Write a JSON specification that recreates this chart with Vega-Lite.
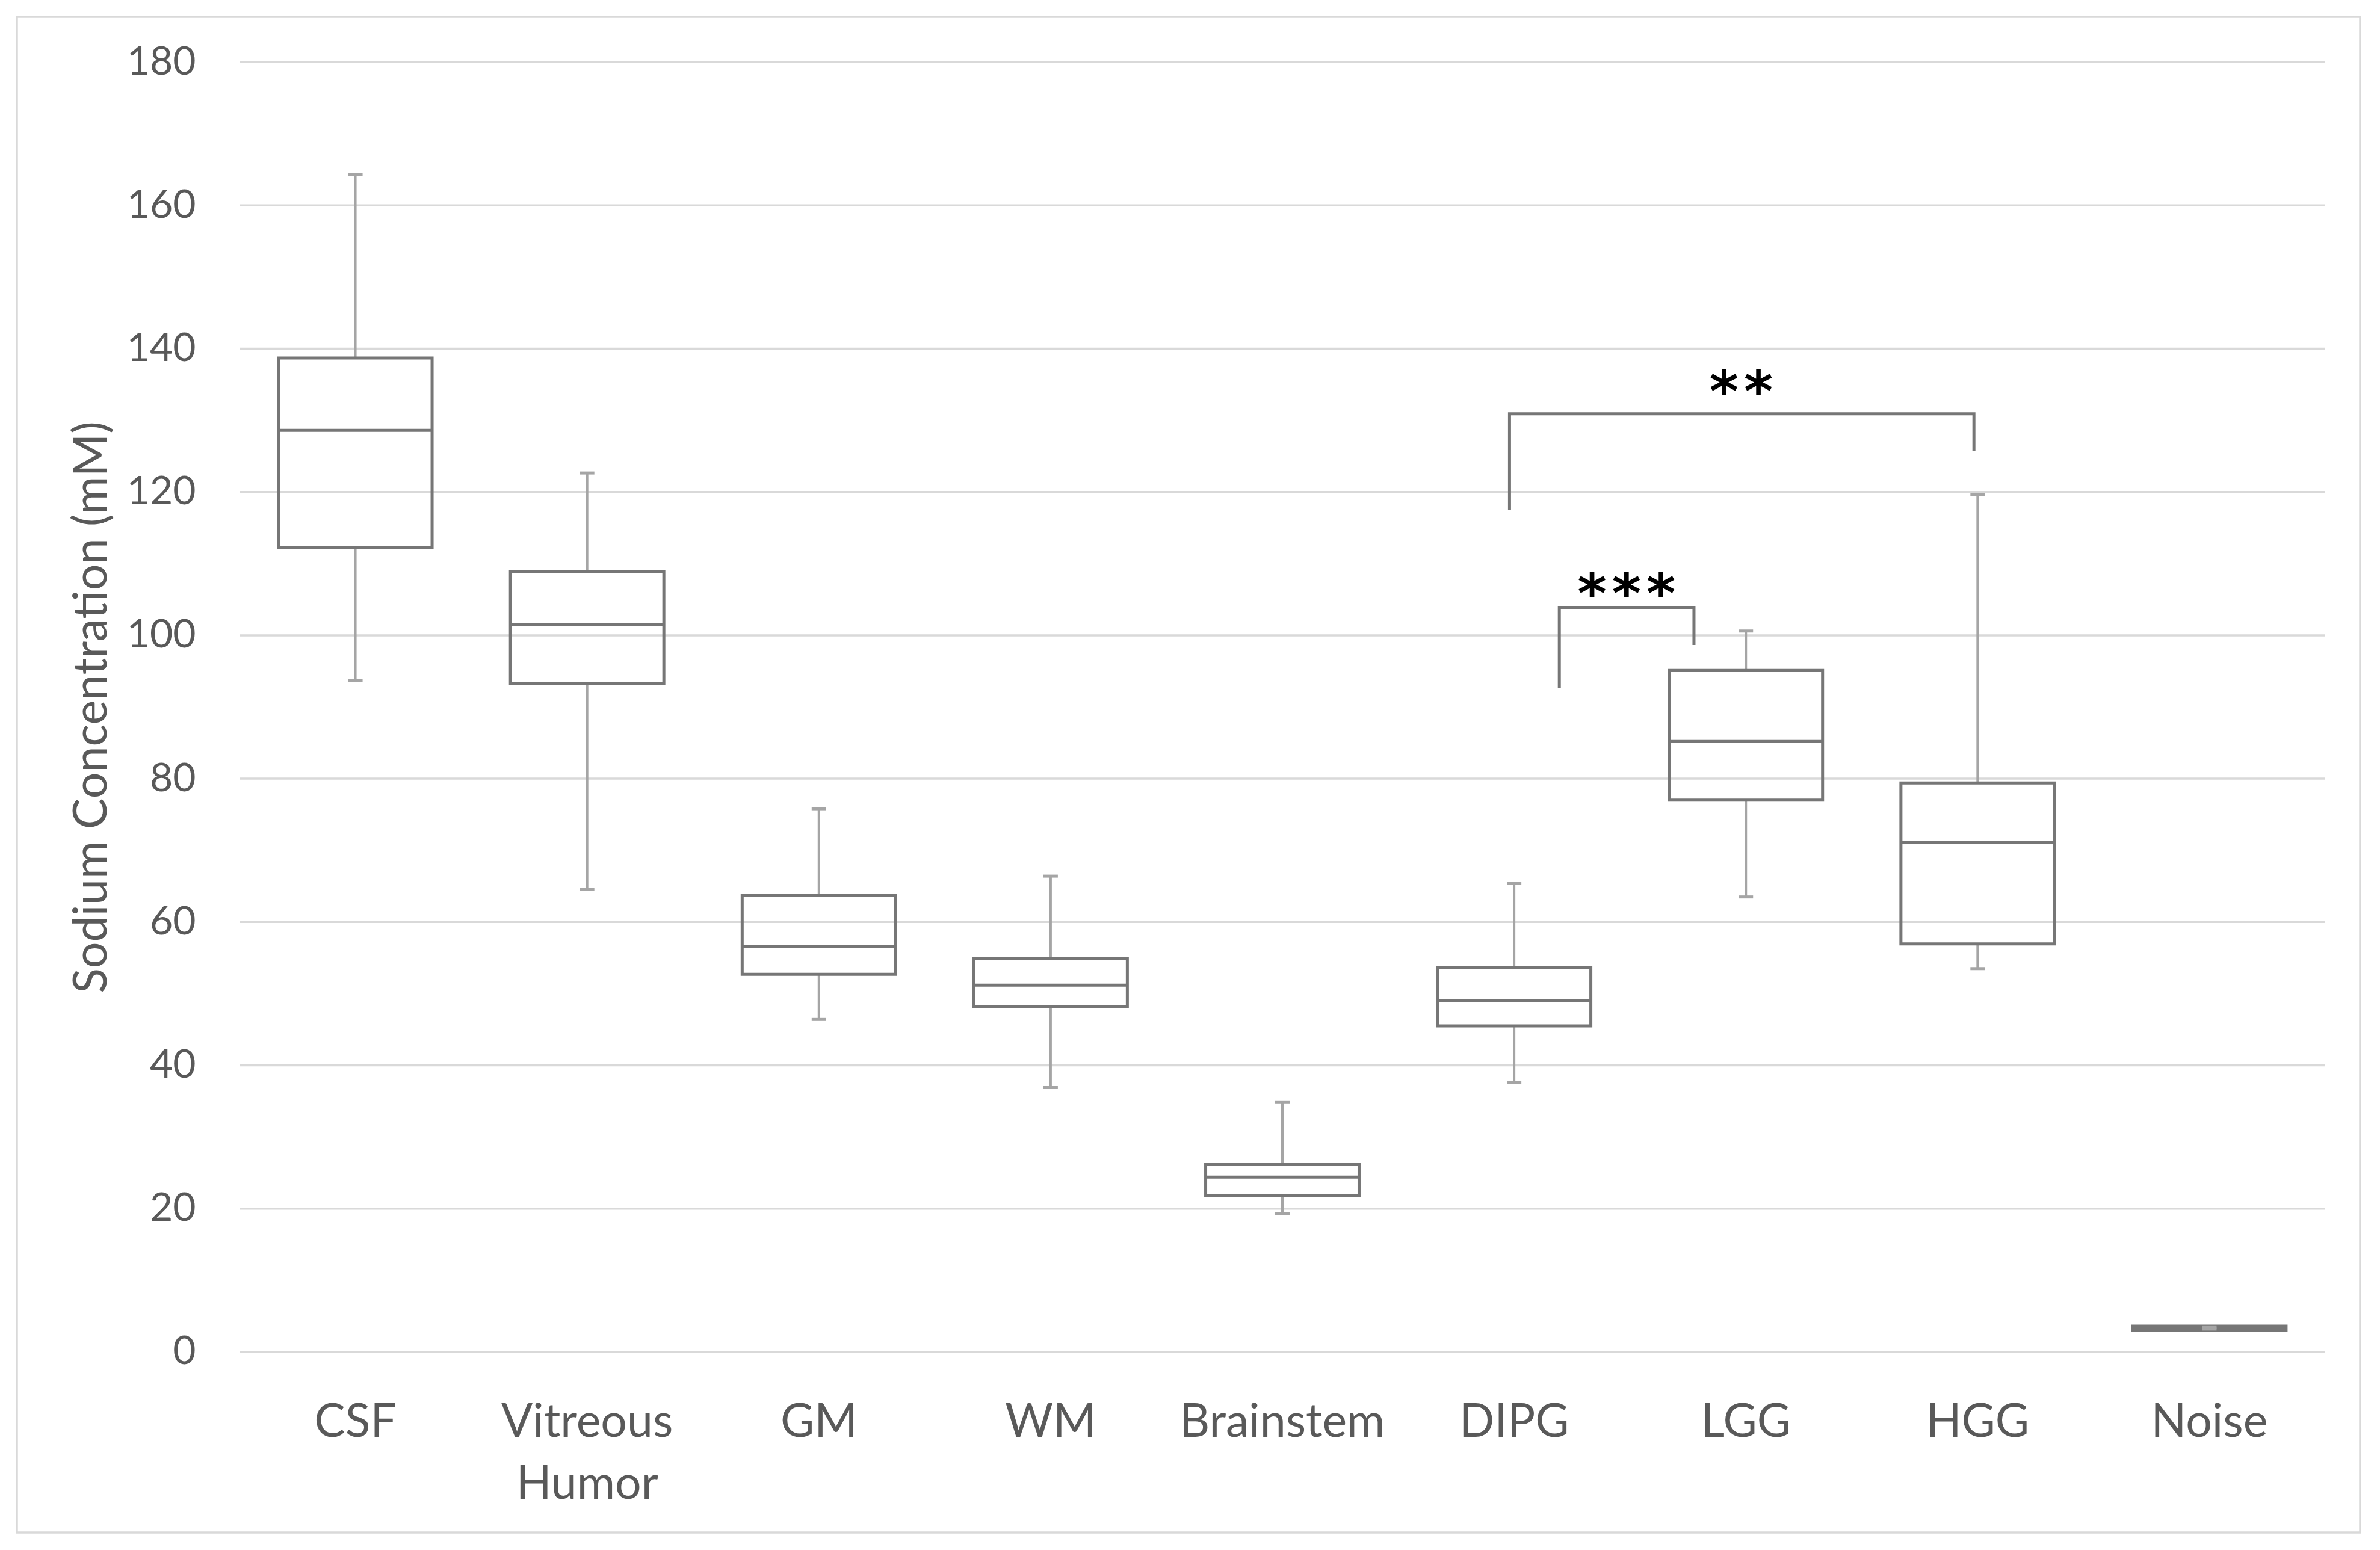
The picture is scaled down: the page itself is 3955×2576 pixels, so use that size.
{
  "$schema": "https://vega.github.io/schema/vega-lite/v6.json",
  "width": 3894,
  "height": 2519,
  "autosize": {"type": "none"},
  "padding": {"left": 28, "top": 28, "right": 33, "bottom": 29},
  "background": "white",
  "config": {
    "view": {"stroke": "#d9d9d9", "strokeWidth": 3.5},
    "font": "Lato",
    "axisY": {
      "tickCount": 10,
      "domain": false, "ticks": false, "grid": false,
      "offset": -297, "labelPadding": 0,
      "labelFont": "Lato", "labelFontSize": 66, "labelColor": "#595959",
      "labelExpr": "datum.value < 0 ? '' : datum.label",
      "titleFont": "Lato", "titleFontSize": 77, "titleColor": "#595959", "titleFontWeight": "normal",
      "titleAngle": -90, "titleX": -149, "titleY": 1147,
      "titleAlign": "center", "titleBaseline": "alphabetic"
    }
  },
  "datasets": {
    "boxes": [
      {"cat": "CSF", "low": 93.7, "q1": 112.3, "med": 128.6, "q3": 138.7, "high": 164.3},
      {"cat": "Vitreous Humor", "low": 64.6, "q1": 93.3, "med": 101.5, "q3": 108.9, "high": 122.65},
      {"cat": "GM", "low": 46.4, "q1": 52.7, "med": 56.6, "q3": 63.75, "high": 75.8},
      {"cat": "WM", "low": 36.9, "q1": 48.2, "med": 51.2, "q3": 54.9, "high": 66.4},
      {"cat": "Brainstem", "low": 19.3, "q1": 21.8, "med": 24.4, "q3": 26.15, "high": 34.9},
      {"cat": "DIPG", "low": 37.6, "q1": 45.5, "med": 49.0, "q3": 53.6, "high": 65.4},
      {"cat": "LGG", "low": 63.5, "q1": 77.0, "med": 85.2, "q3": 95.1, "high": 100.6},
      {"cat": "HGG", "low": 53.5, "q1": 56.95, "med": 71.15, "q3": 79.4, "high": 119.6},
      {"cat": "Noise", "low": 3.2, "q1": 3.05, "med": 3.35, "q3": 3.62, "high": 3.5}
    ],
    "grid": [
      {"g": 0}, {"g": 20}, {"g": 40}, {"g": 60}, {"g": 80},
      {"g": 100}, {"g": 120}, {"g": 140}, {"g": 160}, {"g": 180}
    ],
    "brackets": [
      {"b": "DIPG-HGG", "o": 1, "x": 5.48, "y": 117.5},
      {"b": "DIPG-HGG", "o": 2, "x": 5.48, "y": 130.9},
      {"b": "DIPG-HGG", "o": 3, "x": 7.484, "y": 130.9},
      {"b": "DIPG-HGG", "o": 4, "x": 7.484, "y": 125.7},
      {"b": "DIPG-LGG", "o": 1, "x": 5.695, "y": 92.6},
      {"b": "DIPG-LGG", "o": 2, "x": 5.695, "y": 103.9},
      {"b": "DIPG-LGG", "o": 3, "x": 6.276, "y": 103.9},
      {"b": "DIPG-LGG", "o": 4, "x": 6.276, "y": 98.65}
    ],
    "stars": [
      {"label": "*\u200a*", "x": 6.48, "y": 135.5},
      {"label": "*\u200a*\u200a*", "x": 5.985, "y": 107.3}
    ]
  },
  "resolve": {"scale": {"x": "independent"}, "axis": {"x": "independent"}},
  "layer": [
    {
      "layer": [
        {
          "data": {"name": "grid"},
          "mark": {"type": "rule", "color": "#d9d9d9", "strokeWidth": 3.5},
          "encoding": {
            "x": {"datum": 0, "type": "quantitative", "scale": {"domain": [-0.9608, 9.1506], "nice": false, "zero": false}, "axis": null},
            "x2": {"datum": 9},
            "y": {"field": "g", "type": "quantitative", "scale": {"domain": [-25.187, 186.297], "nice": false, "zero": false}, "title": "Sodium Concentration (mM)"}
          }
        },
        {
          "data": {"name": "brackets"},
          "mark": {"type": "line", "color": "#767676", "strokeWidth": 5, "strokeJoin": "miter", "strokeCap": "butt"},
          "encoding": {
            "x": {"field": "x", "type": "quantitative", "scale": {"domain": [-0.9608, 9.1506], "nice": false, "zero": false}, "axis": null},
            "y": {"field": "y", "type": "quantitative", "scale": {"domain": [-25.187, 186.297], "nice": false, "zero": false}, "title": "Sodium Concentration (mM)"},
            "detail": {"field": "b"},
            "order": {"field": "o"}
          }
        },
        {
          "data": {"name": "stars"},
          "mark": {"type": "text", "font": "DejaVu Sans", "fontWeight": "bold", "fontSize": 92, "color": "#000000", "align": "center", "baseline": "alphabetic", "dy": 50},
          "encoding": {
            "x": {"field": "x", "type": "quantitative", "scale": {"domain": [-0.9608, 9.1506], "nice": false, "zero": false}, "axis": null},
            "y": {"field": "y", "type": "quantitative", "scale": {"domain": [-25.187, 186.297], "nice": false, "zero": false}, "title": "Sodium Concentration (mM)"},
            "text": {"field": "label"}
          }
        }
      ]
    },
    {
      "data": {"name": "boxes"},
      "encoding": {
        "x": {
          "field": "cat", "type": "nominal", "sort": null,
          "scale": {"paddingInner": 0, "paddingOuter": 0.5557, "align": 0.8645},
          "title": null,
          "axis": {
            "orient": "bottom", "domain": false, "ticks": false, "grid": false,
            "offset": -300, "labelPadding": 140, "labelBaseline": "alphabetic",
            "labelFont": "Lato", "labelFontSize": 77, "labelColor": "#595959",
            "labelAngle": 0, "labelLineHeight": 103, "labelLimit": 0,
            "labelExpr": "split(datum.label, ' ')"
          }
        }
      },
      "layer": [
        {
          "mark": {"type": "rule", "color": "#a5a5a5", "strokeWidth": 4},
          "encoding": {
            "y": {
              "field": "low", "type": "quantitative",
              "scale": {"domain": [-25.187, 186.297], "nice": false, "zero": false},
              "title": "Sodium Concentration (mM)",
              "axis": {"values": [0, 20, 40, 60, 80, 100, 120, 140, 160, 180]}
            },
            "y2": {"field": "q1"}
          }
        },
        {
          "mark": {"type": "rule", "color": "#a5a5a5", "strokeWidth": 4},
          "encoding": {
            "y": {"field": "q3", "type": "quantitative", "scale": {"domain": [-25.187, 186.297], "nice": false, "zero": false}, "title": "Sodium Concentration (mM)"},
            "y2": {"field": "high"}
          }
        },
        {
          "mark": {"type": "bar", "fill": null, "fillOpacity": 0, "stroke": "#767676", "strokeWidth": 5, "width": {"band": 0.662}},
          "encoding": {
            "y": {"field": "q1", "type": "quantitative", "scale": {"domain": [-25.187, 186.297], "nice": false, "zero": false}, "title": "Sodium Concentration (mM)"},
            "y2": {"field": "q3"}
          }
        },
        {
          "mark": {"type": "tick", "color": "#767676", "size": 255, "thickness": 5, "opacity": 1},
          "encoding": {
            "y": {"field": "med", "type": "quantitative", "scale": {"domain": [-25.187, 186.297], "nice": false, "zero": false}, "title": "Sodium Concentration (mM)"}
          }
        },
        {
          "transform": [{"fold": ["low", "high"], "as": ["end", "v"]}],
          "mark": {"type": "tick", "color": "#a5a5a5", "size": 24, "thickness": 5, "opacity": 1},
          "encoding": {
            "y": {"field": "v", "type": "quantitative", "scale": {"domain": [-25.187, 186.297], "nice": false, "zero": false}, "title": "Sodium Concentration (mM)"}
          }
        }
      ]
    }
  ]
}
